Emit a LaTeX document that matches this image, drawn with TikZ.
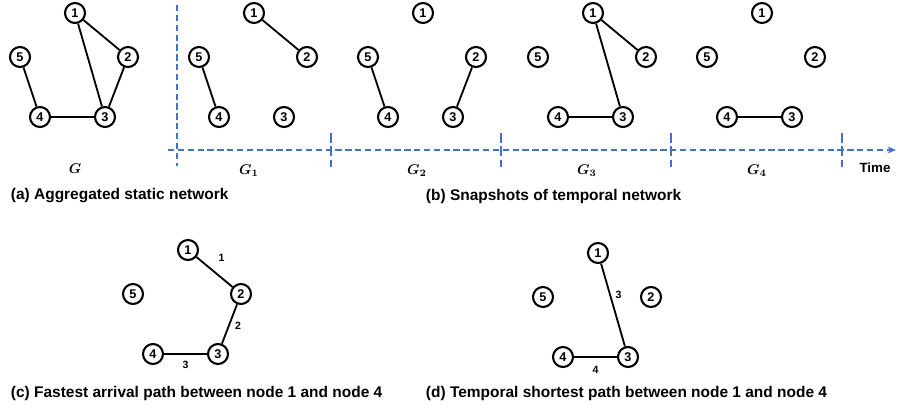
\documentclass[tikz,border=0pt]{standalone}
\usepackage{fontspec}
\setmainfont{Liberation Sans}
\usepackage{amsmath}
\usepackage{bm}
\usetikzlibrary{arrows.meta}

\definecolor{axisblue}{RGB}{68,114,196}

\tikzset{
  vertex/.style={draw, circle, line width=1.5pt, minimum size=0.5cm, inner sep=0pt, font=\bfseries\fontsize{9}{9}\selectfont},
  link/.style={line width=1.3pt},
  timeline/.style={draw=axisblue, line width=1.3pt, dash pattern=on 4.5pt off 2.5pt},
  caption/.style={anchor=west, font=\bfseries\fontsize{11}{13}\selectfont},
  snaplabel/.style={font=\normalsize},
  weight/.style={font=\bfseries\fontsize{7.5}{8}\selectfont}
}

% five nodes of one network, placed from the position of node 1
\newcommand{\netnodes}[3]{%
  \begin{scope}[shift={(#2,#3)}]
    \node[vertex] (#1-1) at (0,0) {1};
    \node[vertex] (#1-2) at (53,44) {2};
    \node[vertex] (#1-5) at (-55,44) {5};
    \node[vertex] (#1-4) at (-35,104) {4};
    \node[vertex] (#1-3) at (30,104) {3};
  \end{scope}}

\begin{document}
\begin{tikzpicture}[x=0.025cm, y=-0.025cm]
      \useasboundingbox (0,0) rectangle (898,409);

      % Aggregated network
      \netnodes{g}{75}{13}
      \draw[link] (g-1) -- (g-2);
      \draw[link] (g-1) -- (g-3);
      \draw[link] (g-2) -- (g-3);
      \draw[link] (g-4) -- (g-3);
      \draw[link] (g-5) -- (g-4);

      % Snapshots
      \netnodes{s1}{254}{13}
      \netnodes{s2}{423}{13}
      \netnodes{s3}{593}{13}
      \netnodes{s4}{762}{13}
      \draw[link] (s1-1) -- (s1-2);
      \draw[link] (s1-5) -- (s1-4);
      \draw[link] (s2-5) -- (s2-4);
      \draw[link] (s2-2) -- (s2-3);
      \draw[link] (s3-1) -- (s3-2);
      \draw[link] (s3-1) -- (s3-3);
      \draw[link] (s3-4) -- (s3-3);
      \draw[link] (s4-4) -- (s4-3);

      % Time axis
      \coordinate (tstart) at (168,150);
      \coordinate (tend) at (896,150);
      \coordinate (vtop) at (177,5);
      \coordinate (vbot) at (177,166);
      \draw[timeline, -{Stealth[length=6pt, width=5pt]}] (tstart) -- (tend);
      \draw[timeline] (vtop) -- (vbot);
      \foreach \t [count=\i] in {331,501,671,842} {
        \coordinate (tick\i-top) at (\t,133);
        \coordinate (tick\i-bot) at (\t,167);
        \draw[timeline, dash pattern=on 7pt off 2.5pt] (tick\i-top) -- (tick\i-bot);
      }

      % Labels
      \node[snaplabel] (lg) at (75,169) {$\bm{G}$};
      \node[snaplabel] (lg1) at (249,171) {$\bm{G}_{\bm{1}}$};
      \node[snaplabel] (lg2) at (417,171) {$\bm{G}_{\bm{2}}$};
      \node[snaplabel] (lg3) at (587,171) {$\bm{G}_{\bm{3}}$};
      \node[snaplabel] (lg4) at (757,171) {$\bm{G}_{\bm{4}}$};
      \node[font=\bfseries\fontsize{9.5}{10}\selectfont] (time) at (875,168) {Time};
      \node[caption] (capa) at (6,196) {(a) Aggregated static network};
      \node[caption] (capb) at (421,196) {(b) Snapshots of temporal network};

      % Fastest arrival path
      \netnodes{c}{188}{250}
      \draw[link] (c-1) -- node[weight, xshift=5pt, yshift=10pt] {1} (c-2);
      \draw[link] (c-2) -- node[weight, xshift=6pt, yshift=-1pt] {2} (c-3);
      \draw[link] (c-4) -- node[weight, yshift=-8pt] {3} (c-3);
      \node[caption] (capc) at (6,393) {(c) Fastest arrival path between node 1 and node 4};

      % Temporal shortest path
      \netnodes{d}{598}{253}
      \draw[link] (d-1) -- node[weight, xshift=4pt, yshift=7pt] {3} (d-3);
      \draw[link] (d-4) -- node[weight, yshift=-9pt] {4} (d-3);
      \node[caption] (capd) at (421,393) {(d) Temporal shortest path between node 1 and node 4};

    \end{tikzpicture}
\end{document}
